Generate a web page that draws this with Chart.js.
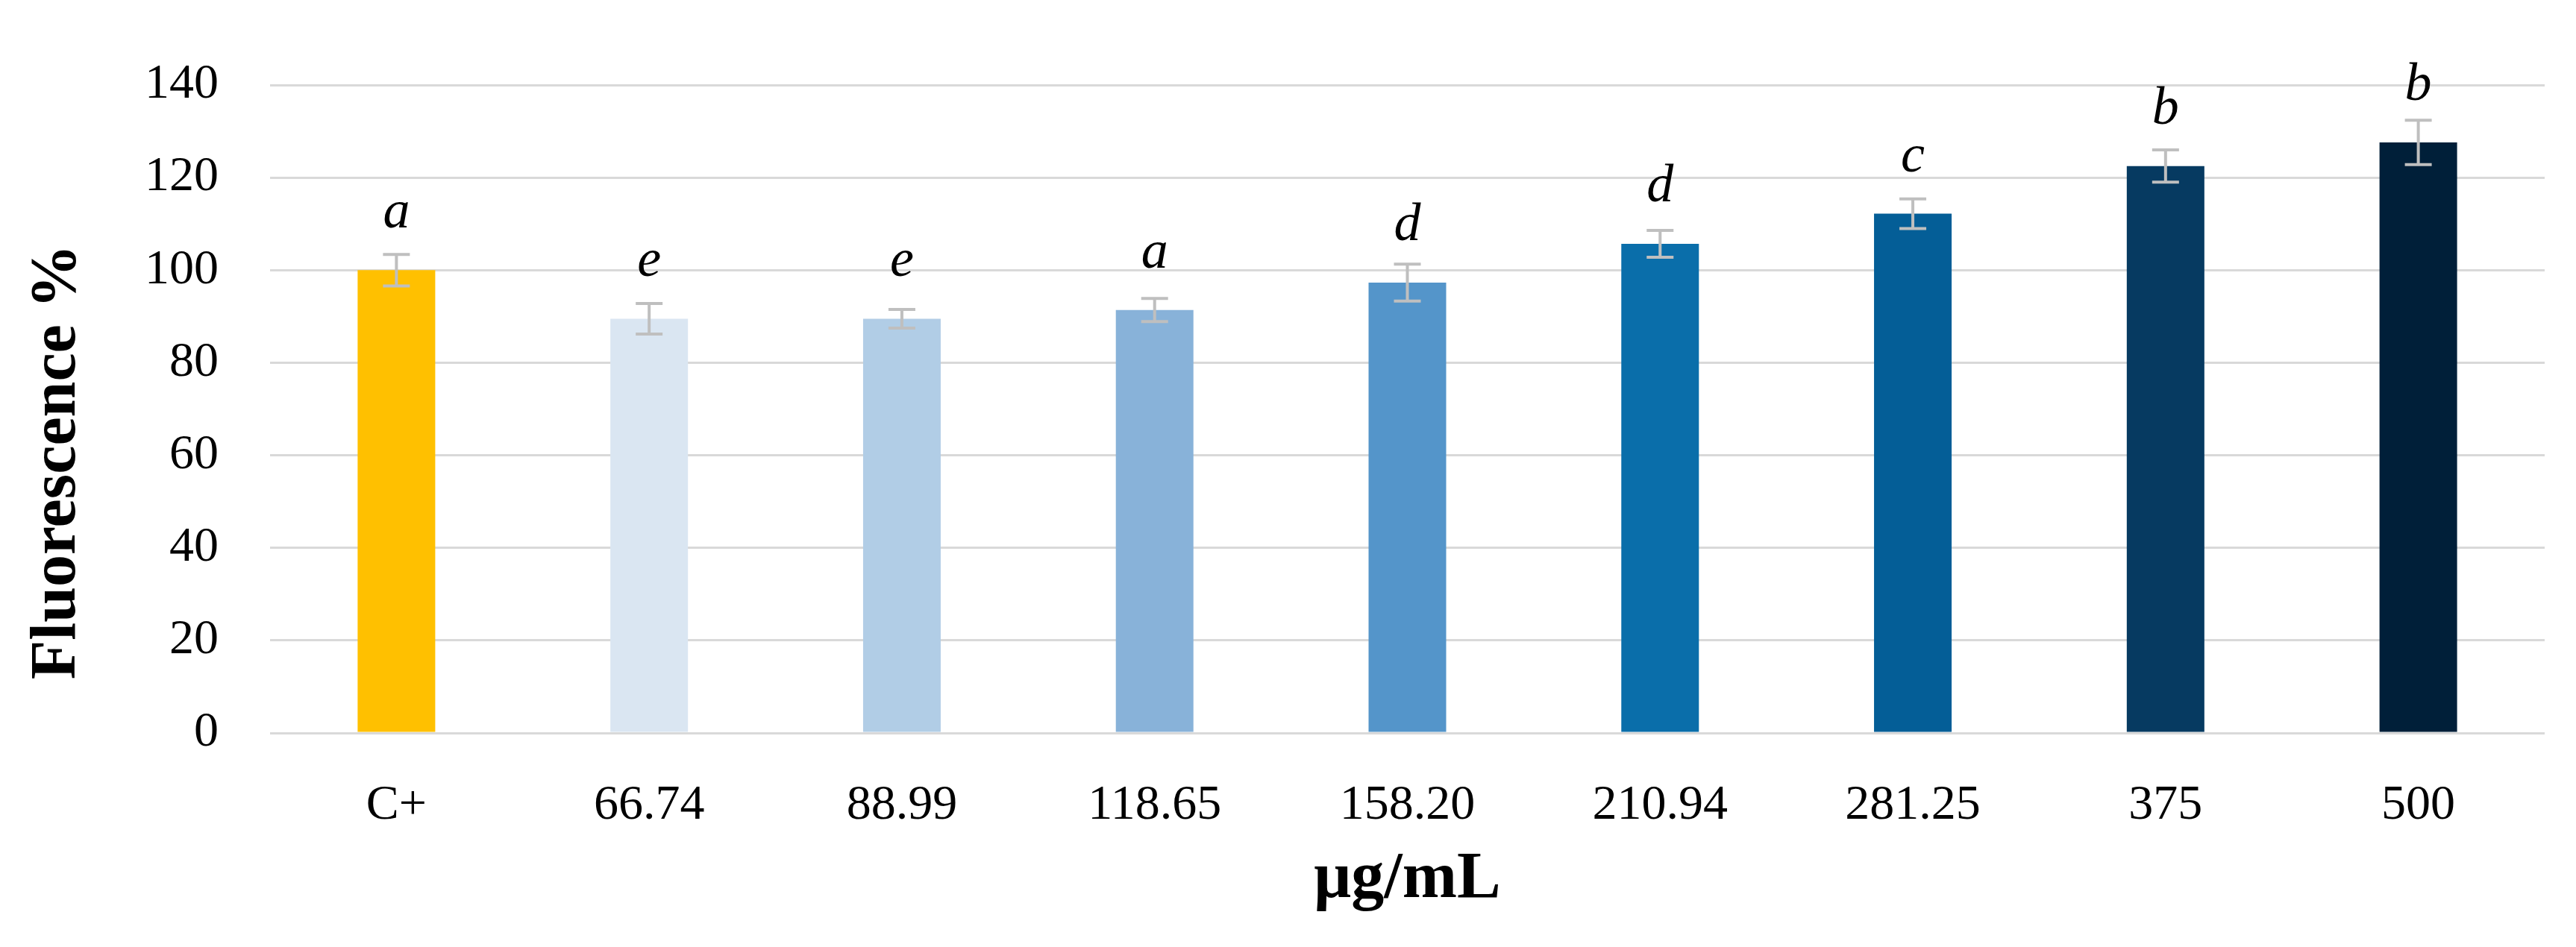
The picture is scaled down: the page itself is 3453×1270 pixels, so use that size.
<!DOCTYPE html>
<html>
<head>
<meta charset="utf-8">
<script src="https://cdn.jsdelivr.net/npm/chart.js@4.4.1/dist/chart.umd.min.js"></script>
<style>
    html, body { margin: 0; padding: 0; background: #ffffff; }
    #wrap { width: 3453px; height: 1270px; }
</style>
</head>
<body>
<div id="wrap"><canvas id="fluoChart" width="3453" height="1270"></canvas></div>
<script>
// ========== DATA ==========
const categories = ['C+', '66.74', '88.99', '118.65', '158.20', '210.94', '281.25', '375', '500'];
const fluorescence = [100, 89.5, 89.5, 91.4, 97.3, 105.7, 112.2, 122.5, 127.6];
const errors = [3.4, 3.3, 2.0, 2.5, 4.0, 2.9, 3.2, 3.5, 4.8];
const groupLetters = ['a', 'e', 'e', 'a', 'd', 'd', 'c', 'b', 'b'];
const yTicks = [0, 20, 40, 60, 80, 100, 120, 140];

const barColors = ['#FFC000', '#DAE6F2', '#B1CDE6', '#88B2D9', '#5495CA', '#0A6EAA', '#045E97', '#063A61', '#001F39'];

const SERIF = "'Liberation Serif', 'DejaVu Serif', serif";

// ========== PLUGINS ==========

// error bars + significance letters
const errorBarPlugin = {
    id: 'errorBars',
    afterDatasetsDraw(chart) {
        const ctx = chart.ctx;
        const yScale = chart.scales.y;
        const meta = chart.getDatasetMeta(0);
        ctx.save();
        meta.data.forEach((bar, i) => {
            const top = yScale.getPixelForValue(fluorescence[i] + errors[i]);
            const bottom = yScale.getPixelForValue(fluorescence[i] - errors[i]);
            ctx.strokeStyle = '#BFBFBF';
            ctx.lineWidth = 4;
            ctx.beginPath();
            ctx.moveTo(bar.x, top);
            ctx.lineTo(bar.x, bottom);
            ctx.moveTo(bar.x - 18, top);
            ctx.lineTo(bar.x + 18, top);
            ctx.moveTo(bar.x - 18, bottom);
            ctx.lineTo(bar.x + 18, bottom);
            ctx.stroke();

            ctx.fillStyle = '#000000';
            ctx.font = 'italic 72px ' + SERIF;
            ctx.textAlign = 'center';
            ctx.textBaseline = 'alphabetic';
            ctx.fillText(groupLetters[i], bar.x, bar.y - 57);
        });
        ctx.restore();
    }
};

// axis titles
const axisTitlePlugin = {
    id: 'axisTitles',
    afterDraw(chart) {
        const ctx = chart.ctx;
        const area = chart.chartArea;
        ctx.save();
        ctx.fillStyle = '#000000';
        ctx.textAlign = 'center';
        ctx.textBaseline = 'alphabetic';
        ctx.font = 'bold 88px ' + SERIF;
        ctx.fillText('μg/mL', (area.left + area.right) / 2, area.bottom + 220);

        ctx.font = 'bold 86px ' + SERIF;
        ctx.translate(100, (area.top + area.bottom) / 2 + 71);
        ctx.rotate(-Math.PI / 2);
        ctx.fillText('Fluorescence %', 0, 0);
        ctx.restore();
    }
};

// ========== CHART ==========
const ctx = document.getElementById('fluoChart').getContext('2d');

new Chart(ctx, {
    type: 'bar',
    data: {
        labels: categories,
        datasets: [{
            data: fluorescence,
            backgroundColor: barColors,
            borderWidth: 0,
            barPercentage: 1,
            categoryPercentage: 0.307
        }]
    },
    options: {
        responsive: false,
        animation: false,
        layout: {
            padding: { top: 114, right: 42, bottom: 0, left: 0 }
        },
        plugins: {
            legend: { display: false },
            tooltip: { enabled: false }
        },
        scales: {
            x: {
                grid: { display: false, drawTicks: false },
                border: { display: false },
                ticks: {
                    color: '#000000',
                    font: { family: SERIF, size: 66 },
                    padding: 58,
                    maxRotation: 0
                },
                afterFit: (scale) => { scale.height = 287; }
            },
            y: {
                min: 0,
                max: 140,
                afterBuildTicks: (scale) => {
                    scale.ticks = yTicks.map(v => ({ value: v }));
                },
                grid: { color: '#D9D9D9', lineWidth: 3, drawTicks: false },
                border: { display: false },
                ticks: {
                    color: '#000000',
                    font: { family: SERIF, size: 66 },
                    padding: 69
                },
                afterFit: (scale) => { scale.width = 362; }
            }
        }
    },
    plugins: [errorBarPlugin, axisTitlePlugin]
});
</script>
</body>
</html>
